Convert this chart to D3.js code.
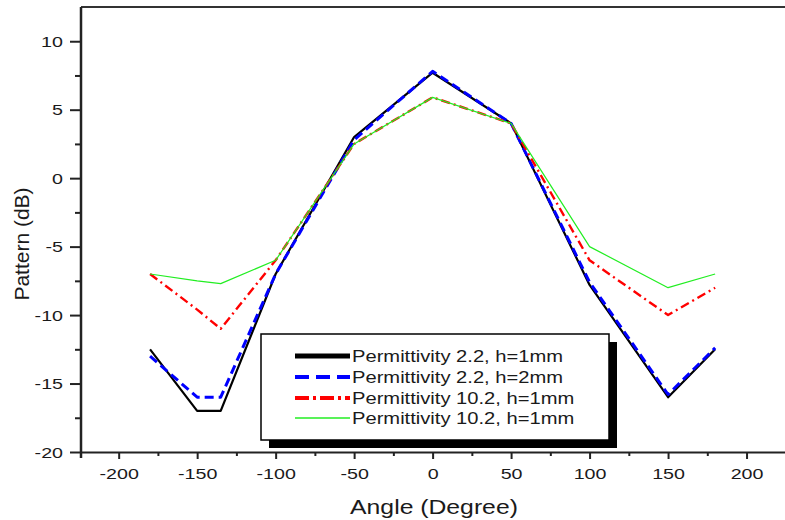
<!DOCTYPE html>
<html>
<head>
<meta charset="utf-8">
<script src="https://cdn.jsdelivr.net/npm/d3@7/dist/d3.min.js"></script>
<style>
  html, body { margin: 0; padding: 0; background: #fff; }
  svg { display: block; }
  text { font-family: "Liberation Sans", Arial, sans-serif; fill: #1a1a1a; }
</style>
</head>
<body>
<svg id="chart" width="785" height="520"></svg>
<script>
// ---- data ----
const angles = [-180, -150, -135, -100, -50, 0, 50, 100, 150, 180];
const perm22h1 = [-12.5, -17, -17, -7, 3, 7.7, 4, -7.8, -16, -12.5];
const perm22h2 = [-13, -16, -16, -7, 2.8, 7.8, 4, -7.6, -15.8, -12.4];
const perm102h1a = [-7, -9.6, -11, -6, 2.5, 5.9, 4, -6, -10, -8];
const perm102h1b = [-7, -7.5, -7.7, -6, 2.5, 5.9, 4, -5, -8, -7];
const seriesNames = ["Permittivity 2.2, h=1mm", "Permittivity 2.2, h=2mm", "Permittivity 10.2, h=1mm", "Permittivity 10.2, h=1mm"];
const xTicks = [-200, -150, -100, -50, 0, 50, 100, 150, 200];
const xMinor = [-175, -125, -75, -25, 25, 75, 125, 175];
const yTicks = [-20, -15, -10, -5, 0, 5, 10];
const yMinor = [-17.5, -12.5, -7.5, -2.5, 2.5, 7.5];
const xTitle = "Angle (Degree)";
const yTitle = "Pattern (dB)";

// ---- styles ----
const styles = [
  { color: "#000000", width: 2.2, dash: null, lw: 5, ldash: null },
  { color: "#0000ff", width: 3, dash: "9,5", lw: 4, ldash: "14,7" },
  { color: "#ff0000", width: 2.4, dash: "9,4,2,4", lw: 4, ldash: "14,4,3,4" },
  { color: "#22ee22", width: 1.2, dash: null, lw: 1.5, ldash: null }
];
const SX = 1.27; // horizontal text stretch
const fmt = d => String(d); // plain hyphen minus

const svg = d3.select("#chart");
const L = 81, R = 785, T = 7, B = 452;
const x = d3.scaleLinear().domain([-224, 224.5]).range([L, R]);
const y = d3.scaleLinear().domain([-20, 12.5]).range([B, T]);

// top border
svg.append("line").attr("x1", L).attr("x2", R).attr("y1", T).attr("y2", T)
  .attr("stroke", "#333").attr("stroke-width", 2);

// x axis
const gx = svg.append("g").attr("transform", `translate(0,${B})`)
  .call(d3.axisBottom(x).tickValues(xTicks).tickFormat(fmt).tickSize(7).tickSizeOuter(0));
gx.select(".domain").attr("stroke", "#222").attr("stroke-width", 2);
gx.selectAll(".tick line").attr("stroke", "#222").attr("stroke-width", 2);
gx.selectAll(".tick text").attr("font-size", 15.5).attr("y", 27).attr("dy", 0)
  .attr("transform", `scale(${SX},1)`).style("font-family", "Liberation Sans, Arial, sans-serif").attr("fill", "#1a1a1a");
svg.append("g").attr("transform", `translate(0,${B})`)
  .call(d3.axisBottom(x).tickValues(xMinor).tickSize(4).tickFormat(""))
  .call(g => { g.select(".domain").remove(); g.selectAll("line").attr("stroke", "#222").attr("stroke-width", 2); });

// y axis
const gy = svg.append("g").attr("transform", `translate(${L},0)`)
  .call(d3.axisLeft(y).tickValues(yTicks).tickFormat(fmt).tickSize(11).tickSizeOuter(0));
gy.select(".domain").attr("stroke", "#222").attr("stroke-width", 2.5)
  .attr("d", `M0,${T}V${B + 6}`);
gy.selectAll(".tick line").attr("stroke", "#222").attr("stroke-width", 2);
gy.selectAll(".tick text").attr("font-size", 15.5).attr("x", -18 / SX).attr("dy", "0.33em")
  .attr("transform", `scale(${SX},1)`).style("font-family", "Liberation Sans, Arial, sans-serif").attr("fill", "#1a1a1a");
svg.append("g").attr("transform", `translate(${L},0)`)
  .call(d3.axisLeft(y).tickValues(yMinor).tickSize(6).tickFormat(""))
  .call(g => { g.select(".domain").remove(); g.selectAll("line").attr("stroke", "#222").attr("stroke-width", 2); });

// axis titles
svg.append("text").attr("transform", `translate(434,514) scale(${SX},1)`)
  .attr("text-anchor", "middle").attr("font-size", 19.5).text(xTitle);
svg.append("text").attr("transform", `translate(29,244) rotate(-90)`)
  .attr("text-anchor", "middle").attr("font-size", 21).text(yTitle);

// lines
const allSeries = [perm22h1, perm22h2, perm102h1a, perm102h1b];
const line = d3.line().x(d => x(d[0])).y(d => y(d[1]));
allSeries.forEach((vals, i) => {
  const st = styles[i];
  svg.append("path")
    .datum(angles.map((a, j) => [a, vals[j]]))
    .attr("d", line)
    .attr("fill", "none")
    .attr("stroke", st.color)
    .attr("stroke-width", st.width)
    .attr("stroke-linejoin", "round")
    .attr("stroke-dasharray", st.dash);
});

// legend
const lg = svg.append("g");
lg.append("rect").attr("x", 269).attr("y", 342).attr("width", 348).attr("height", 106).attr("fill", "#000");
lg.append("rect").attr("x", 261).attr("y", 334).attr("width", 348).attr("height", 106)
  .attr("fill", "#fff").attr("stroke", "#000").attr("stroke-width", 1.5);
const rowY = [356, 377, 398, 418];
seriesNames.forEach((name, i) => {
  const st = styles[i];
  lg.append("line").attr("x1", 295).attr("x2", 350).attr("y1", rowY[i]).attr("y2", rowY[i])
    .attr("stroke", st.color).attr("stroke-width", st.lw).attr("stroke-dasharray", st.ldash);
  lg.append("text").attr("transform", `translate(352,${rowY[i] + 5.6}) scale(${SX - 0.01},1)`)
    .attr("font-size", 16).text(name);
});
</script>
</body>
</html>
